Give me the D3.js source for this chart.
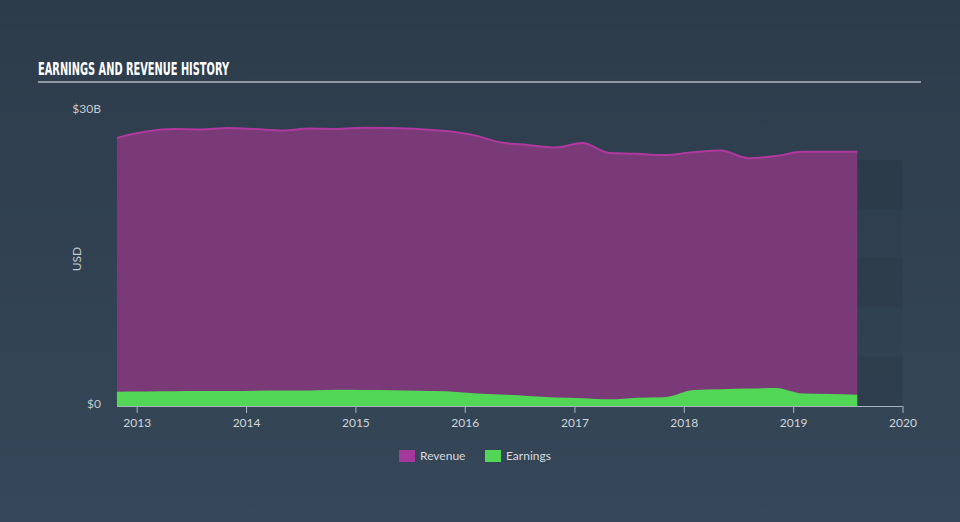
<!DOCTYPE html>
<html><head><meta charset="utf-8">
<script src="https://cdn.jsdelivr.net/npm/d3@7/dist/d3.min.js"></script>
<style>
html,body{margin:0;padding:0;background:#324252;}
svg{display:block;}
</style></head>
<body>
<svg id="chart" width="960" height="522"></svg>
<script>
const dates = ["2012-10-27","2013-02-02","2013-05-04","2013-08-03","2013-11-02","2014-02-01","2014-05-03","2014-08-02","2014-11-01","2015-01-31","2015-05-02","2015-08-01","2015-10-31","2016-01-30","2016-04-30","2016-07-30","2016-10-29","2017-01-28","2017-04-29","2017-07-29","2017-10-28","2018-02-03","2018-05-05","2018-08-04","2018-11-03","2019-02-02","2019-05-04","2019-08-03"];
const revenue = [27.25,27.89,28.14,28.11,28.24,28.14,28.01,28.21,28.16,28.27,28.24,28.14,27.94,27.53,26.79,26.52,26.27,26.72,25.70,25.63,25.50,25.80,25.97,25.19,25.40,25.83,25.83,25.83];
const earnings = [1.45,1.47,1.49,1.52,1.52,1.55,1.57,1.57,1.64,1.62,1.60,1.55,1.50,1.29,1.17,1.02,0.87,0.80,0.68,0.84,0.89,1.62,1.71,1.77,1.83,1.27,1.22,1.15];
const yearTicks = [2013,2014,2015,2016,2017,2018,2019,2020];
const yTickValues = [0,30];
const yTickLabels = ["$0","$30B"];
const bandEdges = [0,5,10,15,20,25];
const legendItems = ["Revenue","Earnings"];

const svg = d3.select("#chart");
const W = 960, H = 522;
const defs = svg.append("defs");
const grad = defs.append("linearGradient").attr("id","bg").attr("x1",0).attr("y1",0).attr("x2",0).attr("y2",1);
grad.append("stop").attr("offset","0%").attr("stop-color","#2d3c4b");
grad.append("stop").attr("offset","100%").attr("stop-color","#354758");
svg.append("rect").attr("width",W).attr("height",H).attr("fill","url(#bg)");

const parse = d3.timeParse("%Y-%m-%d");
const data = dates.map((d,i)=>({date:parse(d), rev:revenue[i], earn:earnings[i]}));

const x = d3.scaleTime()
  .domain([new Date(2013,0,1), new Date(2020,0,1)])
  .range([136.7, 902.5]);
const y = d3.scaleLinear().domain([0,30]).range([406,110.8]);

// forecast bands
const lastDate = data[data.length-1].date;
const bx0 = x(lastDate), bx1 = x(new Date(2020,0,1));
for (let i=0;i<bandEdges.length-1;i++){
  svg.append("rect")
    .attr("x",bx0).attr("width",bx1-bx0)
    .attr("y",y(bandEdges[i+1])).attr("height",y(bandEdges[i])-y(bandEdges[i+1]))
    .attr("fill", i%2===0 ? "rgba(0,0,0,0.075)" : "rgba(0,0,0,0.025)");
}

const curve = d3.curveMonotoneX;
const revArea = d3.area().x(d=>x(d.date)).y0(y(0)).y1(d=>y(d.rev)).curve(curve);
const revLine = d3.line().x(d=>x(d.date)).y(d=>y(d.rev)).curve(curve);
const earnArea = d3.area().x(d=>x(d.date)).y0(y(0)).y1(d=>y(d.earn)).curve(curve);

svg.append("path").datum(data).attr("d",revArea).attr("fill","#7a3a77");
svg.append("path").datum(data).attr("d",revLine).attr("fill","none").attr("stroke","#b0399f").attr("stroke-width",2);
svg.append("path").datum(data).attr("d",earnArea).attr("fill","#52d655");

// x axis
const xAxis = d3.axisBottom(x)
  .tickValues(yearTicks.map(yv=>new Date(yv,0,1)))
  .tickFormat(d3.timeFormat("%Y"))
  .tickSize(7).tickSizeOuter(0);
const gx = svg.append("g").attr("transform","translate(0,406)").call(xAxis);
gx.select(".domain").attr("d",`M117,0.5H${x(new Date(2020,0,1))}`).attr("stroke","#aab3bd");
gx.selectAll(".tick line").attr("stroke","#aab3bd");
gx.selectAll(".tick text").attr("fill","#d0d5da").attr("font-family","Lato, 'Open Sans', sans-serif").attr("font-size",12).attr("dy","0.9em");

// y labels
svg.selectAll(".ylab").data(yTickValues).enter().append("text")
  .attr("x",101).attr("y",d=>y(d)-2.5).attr("dy","0.35em")
  .attr("text-anchor","end").attr("fill","#c5cbd1")
  .attr("font-family","Lato, 'Open Sans', sans-serif").attr("font-size",12)
  .text((d,i)=>yTickLabels[i]);
svg.append("text").attr("transform","translate(81,259) rotate(-90)")
  .attr("text-anchor","middle").attr("fill","#c5cbd1")
  .attr("font-family","Lato, 'Open Sans', sans-serif").attr("font-size",12)
  .text("USD");

// title
svg.append("text").attr("x",38).attr("y",75)
  .attr("fill","#ffffff").attr("font-family","'Liberation Sans Narrow', 'DejaVu Sans Condensed', sans-serif")
  .attr("font-weight","bold").attr("font-size",17)
  .attr("textLength",191).attr("lengthAdjust","spacingAndGlyphs")
  .text("EARNINGS AND REVENUE HISTORY");
svg.append("line").attr("x1",38).attr("x2",921).attr("y1",82).attr("y2",82)
  .attr("stroke","#aeb6bf").attr("stroke-width",1.5);

// legend
const legColors = ["#a6379d","#52d655"];
const legX = [399,485];
legendItems.forEach((t,i)=>{
  svg.append("rect").attr("x",legX[i]).attr("y",450).attr("width",16).attr("height",12).attr("fill",legColors[i]);
  svg.append("text").attr("x",legX[i]+21).attr("y",456).attr("dy","0.35em")
    .attr("fill","#d5dade").attr("font-family","Lato, 'Open Sans', sans-serif").attr("font-size",12).text(t);
});
</script>
</body></html>
